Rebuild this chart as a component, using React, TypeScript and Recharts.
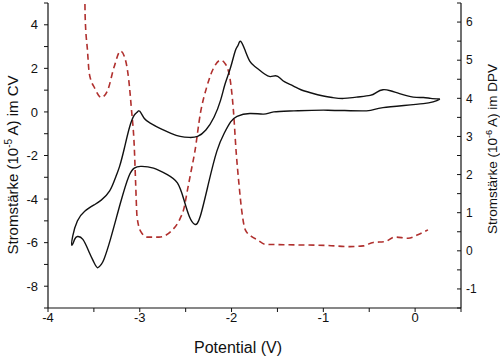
import React from "react";
import { LineChart, Line, XAxis, YAxis, Label } from "recharts";

// CV loop (potential in V, current in 10^-5 A), traced in scan order
const cvPotential = [
  0.27, 0.17, 0.09, -0.02, -0.17, -0.27, -0.35, -0.42, -0.49, -0.64, -0.78, -0.9, -1.0, -1.14,
  -1.25, -1.33, -1.42, -1.47, -1.52, -1.58, -1.64, -1.69, -1.75, -1.8, -1.85, -1.9, -1.93, -1.96,
  -2.01, -2.07, -2.12, -2.19, -2.28, -2.37, -2.46, -2.56, -2.66, -2.78, -2.88, -2.95, -3.0, -3.03,
  -3.06, -3.11, -3.17, -3.22, -3.26, -3.33, -3.42, -3.49, -3.6, -3.68, -3.73, -3.74,
  -3.71, -3.68, -3.62, -3.55, -3.5, -3.46, -3.42, -3.39, -3.32, -3.21, -3.12, -3.06, -2.99, -2.85,
  -2.7, -2.59, -2.52, -2.46, -2.4, -2.34, -2.25, -2.16, -2.08, -2.01, -1.94, -1.8, -1.65, -1.54,
  -1.32, -0.95, -0.53, -0.35, 0.09, 0.27,
];
const cvCurrent = [
  0.59, 0.62, 0.66, 0.68, 0.84, 0.97, 1.02, 0.9, 0.76, 0.68, 0.62, 0.66, 0.73, 0.88,
  1.03, 1.2, 1.38, 1.55, 1.66, 1.62, 1.74, 1.9, 2.1, 2.32, 2.8, 3.24, 3.05, 2.8,
  2.05, 1.29, 0.53, -0.23, -0.83, -1.12, -1.17, -1.12, -0.98, -0.76, -0.53, -0.3, 0.03, -0.02,
  -0.15, -0.68, -1.7, -2.5, -2.96, -3.64, -4.05, -4.25, -4.56, -5.01, -5.69, -6.12,
  -5.85, -5.72, -5.85, -6.45, -6.9, -7.15, -7.0, -6.76, -5.85, -4.17, -2.96, -2.58, -2.5, -2.58,
  -2.88, -3.26, -4.02, -4.8, -5.16, -4.78, -3.26, -1.8, -0.98, -0.46, -0.2, -0.07, -0.1, 0.0,
  0.05, 0.08, 0.05, 0.2, 0.38, 0.59,
];

// DPV scan (potential in V, current in 10^-6 A)
const dpvPotential = [
  -3.6, -3.595, -3.57, -3.55, -3.49, -3.42, -3.35, -3.28, -3.21, -3.16, -3.12, -3.09, -3.06, -3.045,
  -3.03, -2.99, -2.92, -2.79, -2.66, -2.56, -2.52, -2.48, -2.44, -2.4, -2.34, -2.27, -2.19, -2.12,
  -2.07, -2.02, -1.98, -1.95, -1.92, -1.89, -1.85, -1.78, -1.72, -1.63, -1.43, -0.95, -0.71, -0.565,
  -0.456, -0.33, -0.22, -0.076, 0.03, 0.14,
];
const dpvCurrent = [
  7.0, 6.13, 5.26, 4.65, 4.26, 4.02, 4.21, 4.82, 5.24, 5.04, 4.48, 3.69, 2.73, 1.77,
  0.9, 0.51, 0.36, 0.36, 0.51, 0.85, 1.1, 1.6, 2.1, 2.6, 3.6, 4.3, 4.82, 5.0,
  4.91, 4.56, 3.69, 2.6, 1.77, 1.07, 0.55, 0.37, 0.29, 0.17, 0.16, 0.14, 0.11, 0.13,
  0.22, 0.24, 0.36, 0.33, 0.42, 0.55,
];

const xTicks = [-4, -3.5, -3, -2.5, -2, -1.5, -1, -0.5, 0, 0.5];
const cvTicks = [-9, -8, -7, -6, -5, -4, -3, -2, -1, 0, 1, 2, 3, 4, 5];
const dpvTicks = [-1.5, -1, -0.5, 0, 0.5, 1, 1.5, 2, 2.5, 3, 3.5, 4, 4.5, 5, 5.5, 6, 6.5];

const cvData = cvPotential.map((x, i) => ({ x, y: cvCurrent[i] }));
const dpvData = dpvPotential.map((x, i) => ({ x, y: dpvCurrent[i] }));

const font = "'Liberation Sans', Arial, sans-serif";
const tickStyle = { fill: "#111", fontSize: 13, fontFamily: font };

const VerticalTitle = ({ x, y, size, sup, main, rest }: any) => (
  <text
    transform={`translate(${x},${y}) rotate(-90)`}
    textAnchor="middle"
    fontSize={size}
    fontFamily={font}
    fill="#111"
  >
    {main}
    <tspan dy={-size * 0.4} fontSize={size * 0.68}>
      {sup}
    </tspan>
    <tspan dy={size * 0.4}>{rest}</tspan>
  </text>
);

export default function App() {
  return (
    <div style={{ position: "fixed", left: 0, top: 0, width: 500, height: 359, background: "#fff" }}>
      <LineChart width={500} height={359} margin={{ top: 3, right: 0, bottom: 0, left: 0 }}>
        <XAxis
          xAxisId="main"
          dataKey="x"
          type="number"
          domain={[-4, 0.5]}
          allowDataOverflow
          ticks={xTicks}
          interval={0}
          height={51}
          tickSize={4}
          tickMargin={1}
          axisLine={{ stroke: "#111", strokeWidth: 1.2 }}
          tickLine={{ stroke: "#111" }}
          tick={tickStyle}
          tickFormatter={(v: number) => (Number.isInteger(v) ? String(v) : "")}
        >
          <Label
            content={() => (
              <text x={238} y={353} textAnchor="middle" fontSize={16} fontFamily={font} fill="#111">
                Potential (V)
              </text>
            )}
          />
        </XAxis>
        <XAxis
          xAxisId="top"
          orientation="top"
          mirror
          type="number"
          dataKey="x"
          domain={[-4, 0.5]}
          allowDataOverflow
          ticks={xTicks}
          interval={0}
          height={0}
          tickSize={3}
          tick={false}
          axisLine={{ stroke: "#111", strokeWidth: 1.2 }}
          tickLine={{ stroke: "#111" }}
        />
        <YAxis
          yAxisId="cv"
          type="number"
          domain={[-9, 5]}
          allowDataOverflow
          ticks={cvTicks}
          interval={0}
          width={48}
          tickSize={4}
          tickMargin={6}
          axisLine={{ stroke: "#111", strokeWidth: 1.2 }}
          tickLine={{ stroke: "#111" }}
          tick={tickStyle}
          tickFormatter={(v: number) => (v % 2 === 0 ? String(v) : "")}
        >
          <Label
            content={() => (
              <VerticalTitle x={18} y={165} size={15} main="Stromstärke (10" sup="-5" rest=" A) im CV" />
            )}
          />
        </YAxis>
        <YAxis
          yAxisId="dpv"
          orientation="right"
          type="number"
          domain={[-1.5, 6.5]}
          allowDataOverflow
          ticks={dpvTicks}
          interval={0}
          width={39}
          tickSize={-4}
          tickMargin={9}
          axisLine={{ stroke: "#111", strokeWidth: 1.2 }}
          tickLine={{ stroke: "#111" }}
          tick={{ ...tickStyle, fontSize: 12 }}
          tickFormatter={(v: number) => (Number.isInteger(v) ? String(v) : "")}
        >
          <Label
            content={() => (
              <VerticalTitle x={497} y={149} size={13.5} main="Stromstärke (10" sup="-6" rest=" A) im DPV" />
            )}
          />
        </YAxis>
        <Line
          data={dpvData}
          xAxisId="main"
          yAxisId="dpv"
          dataKey="y"
          type="monotone"
          stroke="#b0302e"
          strokeWidth={1.6}
          strokeDasharray="6 4"
          dot={false}
          isAnimationActive={false}
        />
        <Line
          data={cvData}
          xAxisId="main"
          yAxisId="cv"
          dataKey="y"
          type="natural"
          stroke="#111"
          strokeWidth={1.4}
          dot={false}
          isAnimationActive={false}
        />
      </LineChart>
    </div>
  );
}
